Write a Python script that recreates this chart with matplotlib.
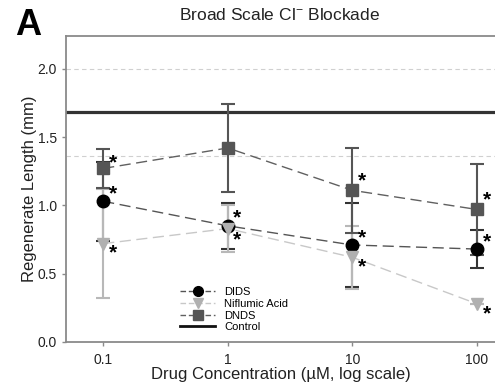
import numpy as np
import matplotlib
matplotlib.use('Agg')
import matplotlib.pyplot as plt
from matplotlib.lines import Line2D

plt.rcParams['font.family'] = ['Liberation Sans', 'DejaVu Sans']
plt.rcParams['mathtext.fontset'] = 'custom'
plt.rcParams['mathtext.rm'] = 'Liberation Sans'

# data
conc = [0.1, 1, 10, 100]
dids = [1.03, 0.85, 0.71, 0.68]
dids_err = [0.29, 0.17, 0.31, 0.14]
nif = [0.72, 0.83, 0.62, 0.28]
nif_err = [0.40, 0.17, 0.23, 0.0]
dnds = [1.27, 1.42, 1.11, 0.97]
dnds_err = [0.145, 0.32, 0.31, 0.33]
control = 1.68
control_err = 0.32

# which points get a star, and where (dx, dy in points)
stars_dids = [(7, 5), (7, 6), (7, 5), (7, 5)]
stars_nif = [(7, -7), (7, -8), (7, -7), (7, -7)]
stars_dnds = [(7, 4), None, (7, 7), (7, 7)]

fig = plt.figure(figsize=(4.95, 3.86), dpi=100)
ax = fig.add_axes([0.133, 0.114, 0.867, 0.793])

ax.axhline(control, color='#333333', lw=2.3, zorder=2)
ax.axhline(control + control_err, color='#d0d0d0', lw=0.8, ls=(0, (4, 3)), zorder=1)
ax.axhline(control - control_err, color='#d0d0d0', lw=0.8, ls=(0, (4, 3)), zorder=1)

# connecting lines
ax.plot(conc, dids, color='#555555', lw=1, ls=(0, (8, 4)), zorder=3)
ax.plot(conc, nif, color='#c8c8c8', lw=1, ls=(0, (8, 4)), zorder=3)
ax.plot(conc, dnds, color='#606060', lw=1, ls=(0, (8, 4)), zorder=3)

# error bars
ax.errorbar(conc, dids, yerr=dids_err, fmt='none', ecolor='#333333', elinewidth=1.5,
            capsize=5, capthick=1.5, zorder=4)
ax.errorbar(conc, nif, yerr=nif_err, fmt='none', ecolor='#b8b8b8', elinewidth=1.5,
            capsize=5, capthick=1.5, zorder=5)
ax.errorbar(conc, dnds, yerr=dnds_err, fmt='none', ecolor='#555555', elinewidth=1.5,
            capsize=5, capthick=1.5, zorder=6)

# markers
ax.plot(conc, dids, 'o', color='black', ms=9, zorder=7)
ax.plot(conc, nif, 'v', color='#b0b0b0', ms=9, zorder=7)
ax.plot(conc, dnds, 's', color='#555555', ms=8.5, zorder=7)

for vals, offs in [(dids, stars_dids), (nif, stars_nif), (dnds, stars_dnds)]:
    for x, y, o in zip(conc, vals, offs):
        if o is None:
            continue
        ax.annotate('*', (x, y), xytext=o, textcoords='offset points',
                    ha='center', va='center', fontsize=15, fontweight='bold',
                    color='black', zorder=8)

ax.set_xscale('log')
ax.set_xlim(0.0501, 140)
ax.set_ylim(0, 2.24)
ax.set_xticks(conc)
ax.set_xticklabels(['0.1', '1', '10', '100'])
ax.minorticks_off()
ax.set_yticks([0, 0.5, 1.0, 1.5, 2.0])
ax.set_yticklabels(['0.0', '0.5', '1.0', '1.5', '2.0'])

for s in ['left', 'bottom', 'top']:
    ax.spines[s].set_color('#8a8a8a')
    ax.spines[s].set_linewidth(1.3)
ax.spines['right'].set_visible(False)
ax.tick_params(colors='#8a8a8a', labelcolor='#222222', labelsize=10, length=3, width=1)
ax.tick_params(axis='x', pad=5)

ax.set_xlabel('Drug Concentration (\u00b5M, log scale)', fontsize=12, color='#222222', labelpad=0)
ax.set_ylabel('Regenerate Length (mm)', fontsize=12, color='#222222', labelpad=0)

fig.text(0.565, 0.96, 'Broad Scale Cl$^{-}$ Blockade', ha='center', va='center',
         fontsize=12.5, color='#222222')
fig.text(0.03, 0.935, 'A', ha='left', va='center', fontsize=26, fontweight='bold')

handles = [
    Line2D([], [], color='#555555', lw=1, ls=(0, (4, 2)), marker='o', mfc='black', mec='black', ms=7),
    Line2D([], [], color='#c8c8c8', lw=1, ls=(0, (4, 2)), marker='v', mfc='#b0b0b0', mec='#b0b0b0', ms=7),
    Line2D([], [], color='#606060', lw=1, ls=(0, (4, 2)), marker='s', mfc='#555555', mec='#555555', ms=6.5),
    Line2D([], [], color='#111111', lw=2),
]
ax.legend(handles, ['DIDS', 'Niflumic Acid', 'DNDS', 'Control'], loc='upper left',
          bbox_to_anchor=(0.352, 0.27), bbox_transform=fig.transFigure, frameon=False,
          fontsize=8, handlelength=3.2, handletextpad=0.8, labelspacing=0.15, borderpad=0)

fig.savefig('out.png', dpi=100)
